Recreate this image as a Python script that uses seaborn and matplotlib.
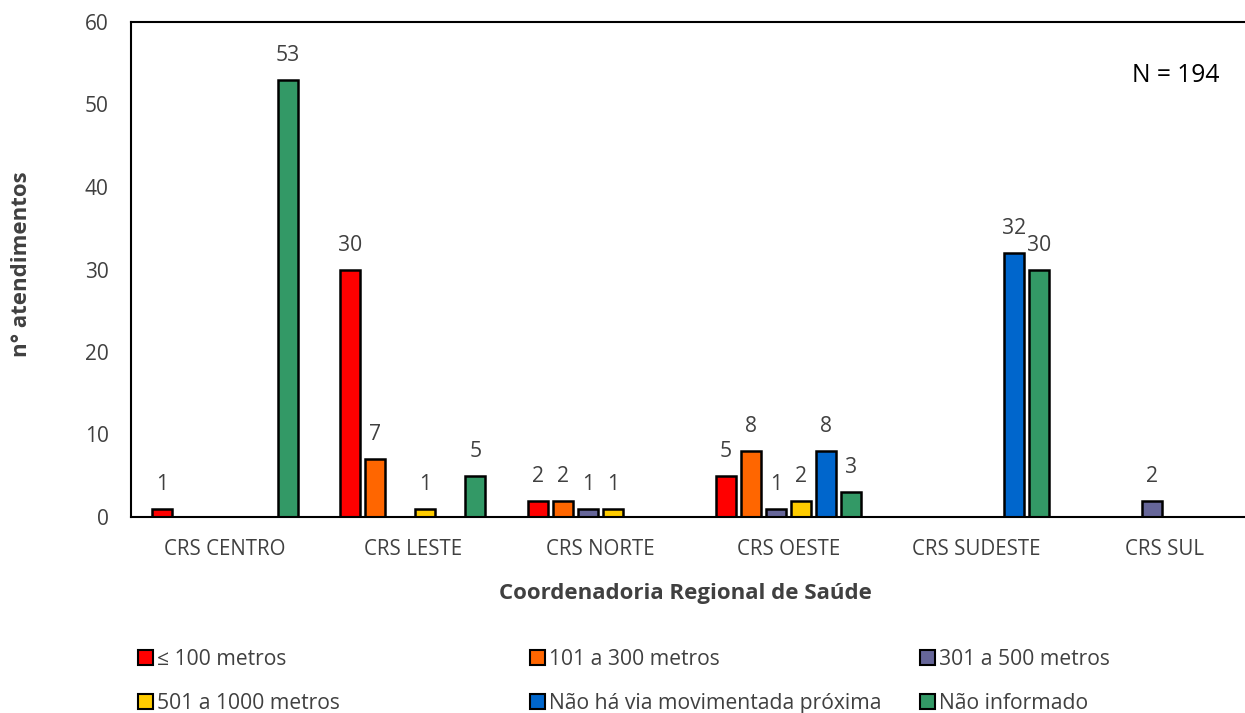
import matplotlib
matplotlib.use("Agg")
import matplotlib.pyplot as plt
from matplotlib.patches import Patch
import seaborn as sns
import pandas as pd

# Categorias (Coordenadorias Regionais de Saúde) e faixas de distância
categorias = ["CRS CENTRO", "CRS LESTE", "CRS NORTE", "CRS OESTE", "CRS SUDESTE", "CRS SUL"]
faixas = ["≤ 100 metros", "101 a 300 metros", "301 a 500 metros",
          "501 a 1000 metros", "Não há via movimentada próxima", "Não informado"]

ate_100 = [1, 30, 2, 5, 0, 0]
de_101_a_300 = [0, 7, 2, 8, 0, 0]
de_301_a_500 = [0, 0, 1, 1, 0, 2]
de_501_a_1000 = [0, 1, 1, 2, 0, 0]
sem_via_proxima = [0, 0, 0, 8, 32, 0]
nao_informado = [53, 5, 0, 3, 30, 0]

yticks = [0, 10, 20, 30, 40, 50, 60]
total_n = 194

cores = ["#FF0000", "#FF6600", "#666699", "#FFCC00", "#0066CC", "#339966"]
TXT = "#404040"

series = [ate_100, de_101_a_300, de_301_a_500, de_501_a_1000, sem_via_proxima, nao_informado]
linhas = []
for faixa, valores in zip(faixas, series):
    for crs, v in zip(categorias, valores):
        linhas.append({"crs": crs, "faixa": faixa, "n": v})
df = pd.DataFrame(linhas)

sns.set_theme(style="white")
plt.rcParams["font.family"] = ["Open Sans", "DejaVu Sans"]

fig = plt.figure(figsize=(12.45, 7.13), dpi=100)
W, H = 1245, 713
x0, x1, ytop, ybot = 131, 1258, 22, 517
ax = fig.add_axes([x0 / W, 1 - ybot / H, (x1 - x0) / W, (ybot - ytop) / H])

sns.barplot(data=df, x="crs", y="n", hue="faixa", order=categorias, hue_order=faixas,
            palette=cores, saturation=1, edgecolor="black", linewidth=1.8,
            width=0.8, gap=0.2, legend=False, errorbar=None, ax=ax)

for cont, valores in zip(ax.containers, series):
    for patch, v in zip(cont.patches, valores):
        if v == 0:
            patch.set_visible(False)
    ax.bar_label(cont, labels=[str(v) if v else "" for v in valores],
                 padding=10, fontsize=15.2, color=TXT)

ax.set_ylim(0, 60)
ax.set_yticks(yticks)
ax.set_xlim(-0.5, len(categorias) - 0.5)
ax.tick_params(axis="both", length=0, colors=TXT)
ax.tick_params(axis="y", labelsize=15, pad=16)
ax.tick_params(axis="x", labelsize=14.8, pad=16)
ax.set_xlabel("")
ax.set_ylabel("")
for side in ["left", "bottom", "top"]:
    ax.spines[side].set_color("black")
    ax.spines[side].set_linewidth(1.5)
ax.spines["right"].set_visible(False)

fig.text(22 / W, 1 - 264 / H, "n° atendimentos", rotation=90, ha="center", va="center",
         fontsize=16, fontweight="bold", color=TXT)
fig.text(685 / W, 1 - 594 / H, "Coordenadoria Regional de Saúde", ha="center", va="center",
         fontsize=16, fontweight="bold", color=TXT)
fig.text(1176 / W, 1 - 76 / H, f"N = {total_n}", ha="center", va="center",
         fontsize=17.7, color="black")

# Legenda em três colunas, duas linhas
colunas = [(138, [0, 3]), (530, [1, 4]), (920, [2, 5])]
for xpix, idx in colunas:
    handles = [Patch(facecolor=cores[i], edgecolor="black", linewidth=1.5, label=faixas[i]) for i in idx]
    leg = fig.legend(handles=handles, loc="upper left", bbox_to_anchor=(xpix / W, 1 - 649 / H),
                     frameon=False, fontsize=15.2, handlelength=0.72, handleheight=0.72,
                     handletextpad=0.2, labelspacing=1.07, borderpad=0, borderaxespad=0)
    for t in leg.get_texts():
        t.set_color(TXT)

fig.savefig("out.png", dpi=100, facecolor="white")
